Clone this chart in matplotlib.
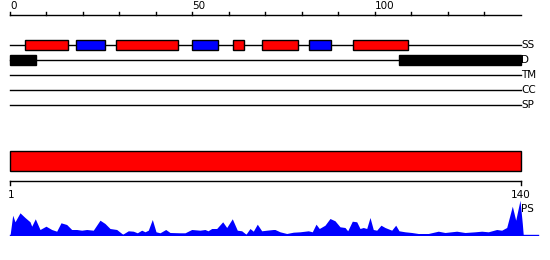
import matplotlib
matplotlib.use("Agg")
import matplotlib.pyplot as plt
from matplotlib.patches import Rectangle

# ---------------- data ----------------
seq_len = 140
top_ticks = list(range(0, 140, 10))
top_tick_labels = {0: "0", 50: "50", 100: "100"}

helix_segments = [(4, 16), (29, 46), (61, 64), (69, 79), (94, 109)]   # red boxes (SS)
strand_segments = [(18, 26), (50, 57), (82, 88)]                      # blue boxes (SS)
disorder_segments = [(0, 7), (106.5, 140)]                             # black boxes (D)
track_names = ["SS", "D", "TM", "CC", "SP"]
domain_segments = [(0, 140)]                                           # big red bar
domain_labels = ["1", "140"]

ps_pos = [0, 0.74, 1.37, 2.74, 4.11, 5.48, 5.95, 6.93, 8.22, 9.86, 11.42, 12.79,
          13.97, 15.53, 16.9, 18.27, 19.64, 21.01, 22.82, 24.66, 26.03, 27.4,
          29.23, 30.88, 32.41, 33.78, 34.88, 36.08, 36.99, 37.89, 38.99, 40.0,
          41.1, 42.66, 43.84, 46.58, 47.95, 49.78, 52.05, 53.42, 54.25, 55.26,
          56.63, 58.27, 59.37, 60.9, 62.27, 63.48, 64.66, 65.75, 66.66, 67.75,
          68.96, 70.33, 72.14, 72.6, 73.97, 75.81, 77.62, 79.45, 81.73, 82.82,
          83.84, 84.74, 86.3, 87.67, 89.04, 90.41, 91.78, 92.52, 93.78, 94.99,
          95.89, 96.79, 97.73, 98.63, 99.53, 100.47, 101.64, 102.74, 104.58,
          105.67, 106.58, 108.22, 110.05, 111.86, 114.6, 117.34, 119.18, 122.38,
          124.66, 127.4, 129.23, 131.04, 133.34, 134.71, 136.08, 137.62, 138.55,
          139.73, 140.36, 140.63]
ps_val = [0, 20.3, 13.7, 22.7, 18, 13.7, 9.3, 16.7, 6, 9.3, 6, 4.3,
          12.7, 11, 6, 6, 5.3, 6, 5.3, 15.3, 12, 7,
          6, 1.3, 4.7, 4.3, 2.7, 5.3, 3.7, 5.3, 16, 3.7,
          2.7, 6, 3, 2.7, 2.7, 6, 5.3, 6, 4.7, 7,
          7, 13.7, 8, 16.7, 5.3, 4.7, 1.3, 7, 4.3, 11.3,
          4.7, 5.3, 6, 6, 3.7, 2, 3.3, 3.7, 4.7, 3.7,
          11.3, 7, 10.3, 17, 14.7, 8.7, 8, 4.7, 14.3, 13.7,
          7, 8, 7, 18, 6, 5.3, 10.3, 8, 5.3,
          10.3, 4.7, 3.7, 3, 2, 2, 4.3, 3, 4.3,
          3, 3.7, 4.3, 3.7, 6, 5.3, 8, 29.3, 15.3,
          35.3, 12, 0]

# ---------------- layout ----------------
W, H = 550, 260
PX_PER_RES = 3.65
X0 = 10
xlim = (-X0 / PX_PER_RES, (W - X0) / PX_PER_RES)

fig = plt.figure(figsize=(W / 100, H / 100), dpi=100)
ax = fig.add_axes([0, 0, 1, 1])
ax.set_xlim(*xlim)
ax.set_ylim(H, 0)
ax.axis("off")

fs = 7.5
font = dict(family="DejaVu Sans", fontsize=fs)

# top ruler
y_rule = 15
ax.plot([0, seq_len], [y_rule, y_rule], color="black", lw=1)
for t in top_ticks:
    ax.plot([t, t], [y_rule, y_rule - 3.5], color="black", lw=1)
    if t in top_tick_labels:
        ax.text(t, y_rule - 4, top_tick_labels[t], ha="left", va="bottom", **font)

# tracks
row_y = [45, 60, 75, 90, 105]
for name, y in zip(track_names, row_y):
    ax.plot([0, seq_len], [y, y], color="black", lw=1, zorder=1)
    ax.text(seq_len, y, name, ha="left", va="center", **font)

bh = 10
for s, e in helix_segments:
    ax.add_patch(Rectangle((s, row_y[0] - bh / 2), e - s, bh, facecolor="#ff0000",
                           edgecolor="black", lw=1, zorder=2))
for s, e in strand_segments:
    ax.add_patch(Rectangle((s, row_y[0] - bh / 2), e - s, bh, facecolor="#0000ff",
                           edgecolor="black", lw=1, zorder=2))
for s, e in disorder_segments:
    ax.add_patch(Rectangle((s, row_y[1] - 5.3), e - s, 10.6, facecolor="black",
                           edgecolor="black", lw=1, zorder=2))

# domain bar
for s, e in domain_segments:
    ax.add_patch(Rectangle((s, 150.5), e - s, 20, facecolor="#ff0000",
                           edgecolor="black", lw=1, zorder=2))

# bottom ruler
y_b = 180.7
ax.plot([0, seq_len], [y_b, y_b], color="black", lw=1)
for t in (0, seq_len):
    ax.plot([t, t], [y_b, y_b + 4], color="black", lw=1)
ax.text(0.2, 200, domain_labels[0], ha="center", va="bottom", **font)
ax.text(seq_len, 200, domain_labels[1], ha="center", va="bottom", **font)
ax.text(seq_len, 208.5, "PS", ha="left", va="center", zorder=5, **font)

# PS profile axes
base_px = 235.5
ps_h = 40
ax2 = fig.add_axes([0, (H - base_px) / H, 1, ps_h / H])
ax2.set_xlim(*xlim)
ax2.set_ylim(0, ps_h)
ax2.axis("off")
ax2.patch.set_alpha(0)
ax2.fill_between(ps_pos, 0, ps_val, color="#0000ff", lw=0)
ax2.plot([0, (538 - X0) / PX_PER_RES], [0.3, 0.3], color="#0000ff", lw=1)

fig.savefig("out.png", dpi=100)
